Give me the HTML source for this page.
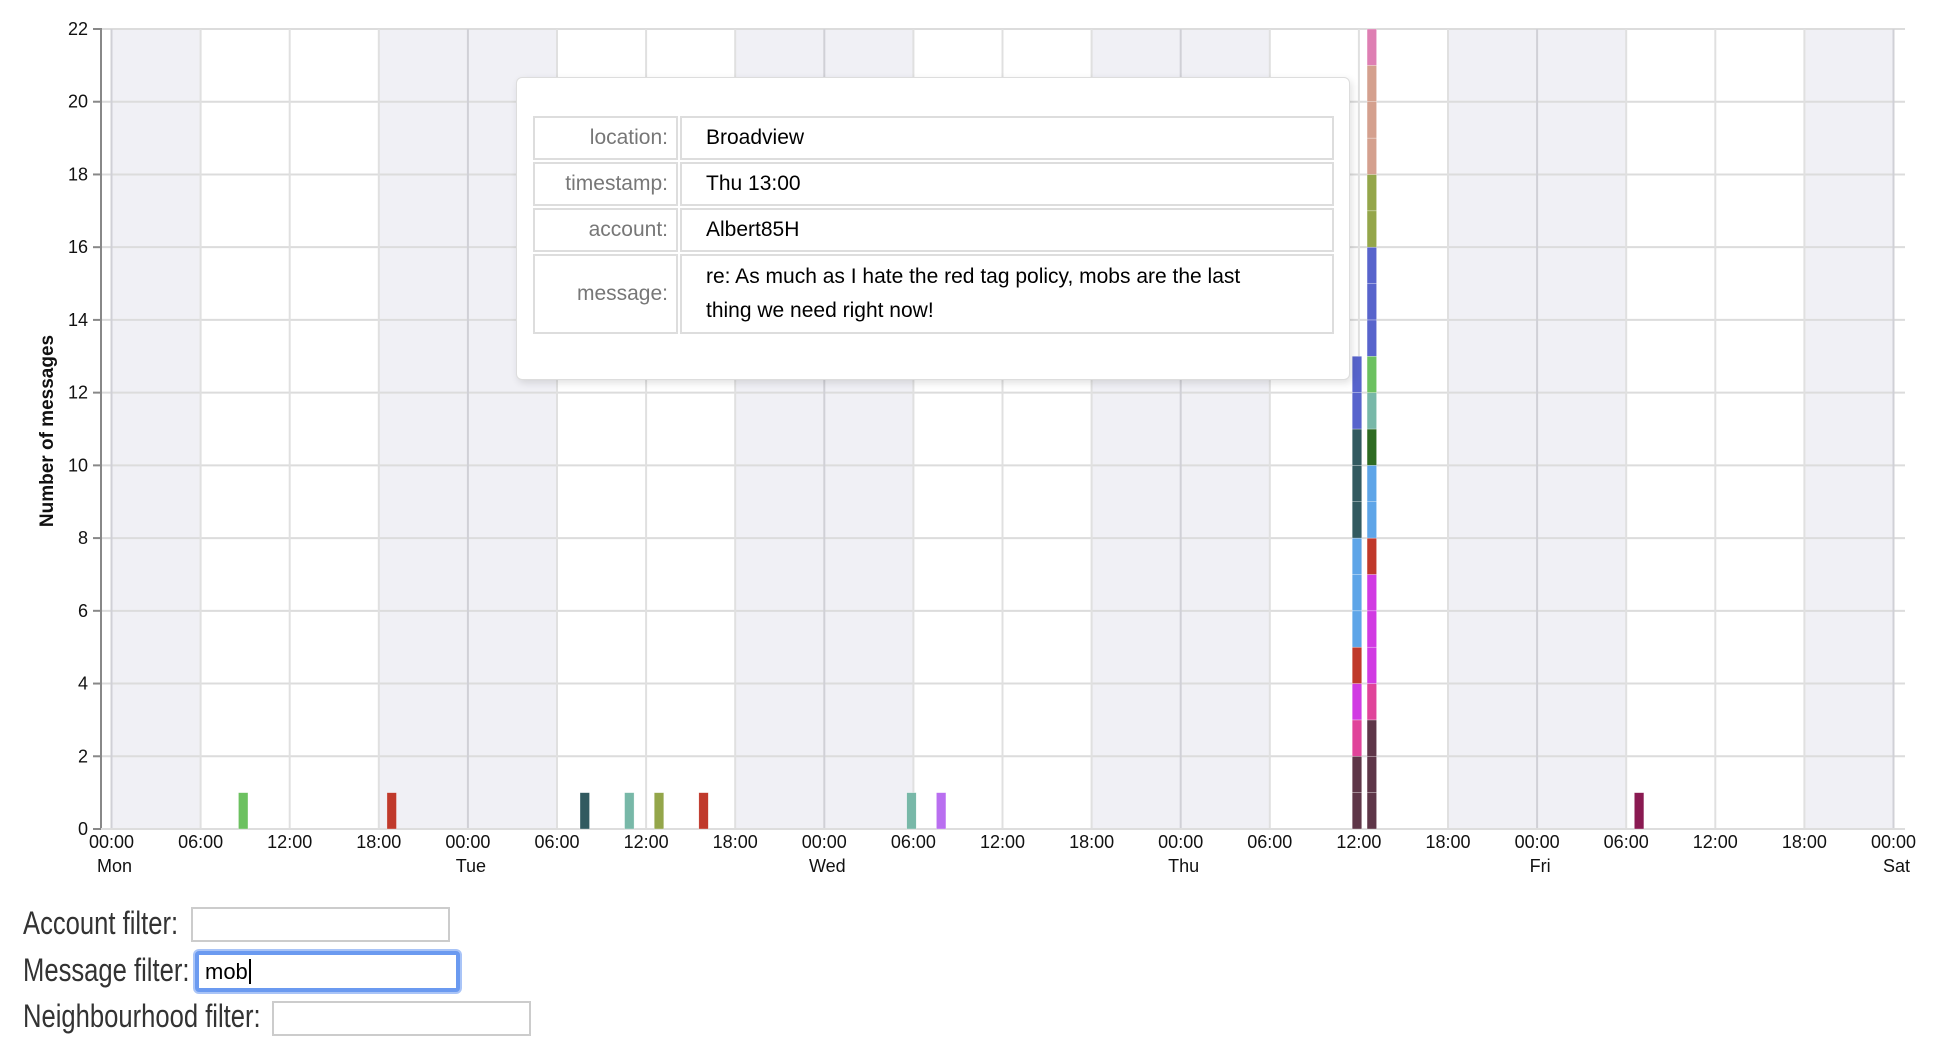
<!DOCTYPE html>
<html><head><meta charset="utf-8">
<style>
html,body{margin:0;padding:0;background:#fff;width:1942px;height:1046px;overflow:hidden;font-family:"Liberation Sans",Arial,sans-serif;}
#chart{position:absolute;left:0;top:0;}
.tip{position:absolute;left:516px;top:77px;width:834px;height:303px;background:#fff;border:1px solid #ddd;border-radius:6px;box-shadow:2px 3px 8px rgba(0,0,0,0.12);box-sizing:border-box;}
.tip table{position:absolute;left:14px;top:36px;border-collapse:separate;border-spacing:2px;font-size:21px;}
.tip td{border:2px solid #ddd;height:40px;padding:0 8px;}
.tip td.l{width:125px;text-align:right;color:#777;}
.tip td.v{width:618px;padding-left:24px;color:#000;line-height:34px;}
.flt{position:absolute;left:23px;font-family:"Liberation Sans",sans-serif;font-size:32px;color:#333;transform:scaleX(0.8);transform-origin:left top;white-space:nowrap;}
.inp{position:absolute;border:2px solid #ccc;box-sizing:border-box;background:#fff;font-size:22px;font-family:"Liberation Sans",sans-serif;}
</style></head><body>
<svg id="chart" width="1942" height="900" xmlns="http://www.w3.org/2000/svg"></svg>

<div class="tip">
<table>
<tr><td class="l">location:</td><td class="v">Broadview</td></tr>
<tr><td class="l">timestamp:</td><td class="v">Thu 13:00</td></tr>
<tr><td class="l">account:</td><td class="v">Albert85H</td></tr>
<tr><td class="l" style="height:76px">message:</td><td class="v">re: As much as I hate the red tag policy, mobs are the last<br>thing we need right now!</td></tr>
</table>
</div>

<div class="flt" style="top:905px">Account filter:</div>
<div class="inp" style="left:191px;top:907px;width:259px;height:35px"></div>
<div class="flt" style="top:952px">Message filter:</div>
<div class="inp" style="left:195px;top:951px;width:265px;height:41px;border:4px solid #6b9af0;border-radius:4px;box-shadow:0 0 0 2px #a9c4f7;padding:4px 0 0 6px;color:#000">mob<span style="border-left:2px solid #000;margin-left:1px"></span></div>
<div class="flt" style="top:998px">Neighbourhood filter:</div>
<div class="inp" style="left:272px;top:1001px;width:259px;height:35px"></div>

<script>
const yTicks=[0,2,4,6,8,10,12,14,16,18,20,22];
const xTickLabels=["00:00","06:00","12:00","18:00"];
const dayLabels=["Mon","Tue","Wed","Thu","Fri","Sat"];
// single bars: hour offset from Mon 00:00, count, colour
const singleHours=[8,18,31,34,36,39,53,55,102];
const singleCounts=[1,1,1,1,1,1,1,1,1];
const singleColors=["#6cc160","#c0392b","#325a60","#78b8a8","#94a64a","#c0392b","#78b8a8","#b96ff0","#8a1a52"];
// stacked bars (Thu 11:00 and Thu 12:00)
const stackHours=[83,84];
const stack1Counts=[2,1,1,1,3,3,2];
const stack1Colors=["#5e3648","#e0449a","#d13be3","#c0392b","#5ea5e8","#325a60","#5864cc"];
const stack2Counts=[3,1,3,1,2,1,1,1,3,2,3,1];
const stack2Colors=["#5e3648","#e0449a","#d13be3","#c0392b","#5ea5e8","#2e6b22","#78b8a8","#6cc160","#5864cc","#94a64a","#d4a08e","#de7fb3"];

const svg=document.getElementById('chart');
const NS="http://www.w3.org/2000/svg";
const X0=111.5,HPX=14.85,Y0=829,TOP=29,UPX=(829-29)/22,RIGHT=1905;
function x(h){return X0+h*HPX;}
function y(v){return Y0-v*UPX;}
function mk(t,a){const e=document.createElementNS(NS,t);for(const k in a)e.setAttribute(k,a[k]);svg.appendChild(e);return e;}

for(let d=-1;d<5;d++){
  const s=Math.max(0,d*24+18),e=Math.min(120,d*24+30);
  const r=mk('rect',{x:x(s),y:TOP,width:x(e)-x(s),height:Y0-TOP,fill:'#f0f0f5'});
  
  
}
yTicks.forEach(v=>{
  const l=mk('line',{x1:101,x2:RIGHT,y1:y(v),y2:y(v),stroke:'#dcdcdc','stroke-width':2});
  
  
});
for(let i=0;i<=20;i++){
  const h=i*6;
  const l=mk('line',{x1:x(h),x2:x(h),y1:TOP,y2:Y0,stroke:(i%4==0)?'#d0d0d6':'#e0e0e0','stroke-width':2});
  
  
  const t=mk('text',{x:x(h),y:848,'text-anchor':'middle','font-size':18,fill:'#111'});
  t.textContent=xTickLabels[i%4];
  
  
  if(i%4==0){
    const d=mk('text',{x:x(h)+3,y:872,'text-anchor':'middle','font-size':18,fill:'#111'});
    d.textContent=dayLabels[i/4];
    
    
  }
}
let ax=mk('line',{x1:101,x2:101,y1:TOP-1,y2:Y0+1,stroke:'#888','stroke-width':2});


let bx=mk('line',{x1:101,x2:RIGHT,y1:Y0,y2:Y0,stroke:'#ddd','stroke-width':2});


yTicks.forEach(v=>{
  const tk=mk('line',{x1:93,x2:101,y1:y(v),y2:y(v),stroke:'#888','stroke-width':2});
  
  
  const t=mk('text',{x:88,y:y(v)+6,'text-anchor':'end','font-size':18,fill:'#111'});
  t.textContent=v;
  
  
});
const yt=mk('text',{x:0,y:0,'text-anchor':'middle','font-size':19,'font-weight':'bold',fill:'#111',transform:'translate(53,431) rotate(-90)'});
yt.textContent='Number of messages';



function bar(h,counts,colors){
  let acc=0;
  counts.forEach((c,i)=>{
    for(let k=0;k<c;k++){
      const r=mk('rect',{x:x(h+0.55),y:y(acc+1),width:HPX*0.64,height:UPX,fill:colors[i],stroke:'#fff','stroke-width':0.5,'stroke-opacity':0.6});
      
      
      acc++;
    }
  });
}
singleHours.forEach((h,i)=>bar(h,[singleCounts[i]],[singleColors[i]]));
bar(stackHours[0],stack1Counts,stack1Colors);
bar(stackHours[1],stack2Counts,stack2Colors);
</script>
</body></html>
